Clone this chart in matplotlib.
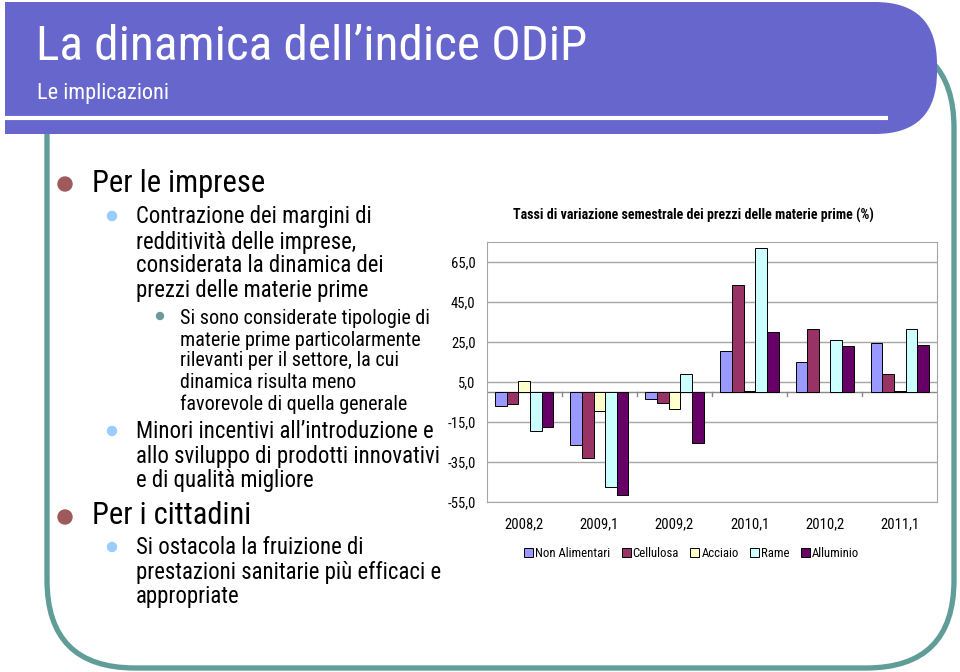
import numpy as np
import matplotlib
matplotlib.use('Agg')
import matplotlib.pyplot as plt
from matplotlib.patches import FancyBboxPatch, Circle
from matplotlib import font_manager

# data
categories = ['2008,2', '2009,1', '2009,2', '2010,1', '2010,2', '2011,1']
series_names = ['Non Alimentari', 'Cellulosa', 'Acciaio', 'Rame', 'Alluminio']
non_alimentari = [-7.0, -26.6, -3.5, 20.6, 14.9, 24.7]
cellulosa = [-6.0, -33.1, -5.5, 53.5, 31.4, 9.0]
acciaio = [5.5, -9.5, -8.4, 0.3, np.nan, 0.3]
rame = [-19.4, -47.8, 9.0, 72.1, 25.9, 31.6]
alluminio = [-17.4, -51.7, -25.4, 29.8, 23.2, 23.4]
yticks = [-55, -35, -15, 5, 25, 45, 65]
colors = ['#9999FF', '#993366', '#FFFFCC', '#CCFFFF', '#660066']

# look for a narrow font, otherwise shrink the regular one
names = set(f.name for f in font_manager.fontManager.ttflist)
narrow = None
for cand in ['Liberation Sans Narrow', 'Roboto Condensed', 'DejaVu Sans Condensed',
             'Open Sans Condensed', 'Noto Sans Condensed']:
    if cand in names:
        narrow = cand
        break
if narrow is None:
    narrow = 'Liberation Sans'
    k = 0.86
else:
    k = 1.0
plt.rcParams['font.family'] = [narrow, 'DejaVu Sans']
if narrow == 'DejaVu Sans Condensed':
    plt.rcParams['font.family'] = ['DejaVu Sans']
    plt.rcParams['font.stretch'] = 'condensed'
    k = 0.92

fig = plt.figure(figsize=(9.6, 6.72), dpi=100)
fig.patch.set_facecolor('white')

# background axes in pixel coords
bg = fig.add_axes([0, 0, 1, 1])
bg.set_xlim(0, 960)
bg.set_ylim(672, 0)
bg.axis('off')

teal = '#609C98'
frame = FancyBboxPatch((47, 40), 907, 628, boxstyle='round,pad=0,rounding_size=88',
                       fill=False, ec=teal, lw=3.8)
bg.add_patch(frame)
header = FancyBboxPatch((5, 2), 932, 132, boxstyle='round,pad=0,rounding_size=62',
                        fc='#6666CC', ec='none')
bg.add_patch(header)
bg.add_patch(plt.Rectangle((5, 2), 100, 132, fc='#6666CC', ec='none'))
bg.plot([5, 888], [118, 118], color='white', lw=3, solid_capstyle='butt')
bg.text(36, 47, 'La dinamica dell\u2019indice ODiP', color='white', fontsize=35.5 * k, va='center', ha='left')
bg.text(37, 93, 'Le implicazioni', color='white', fontsize=16 * k, va='center', ha='left')

# bullets
lines = [
    (0, 183, 'Per le imprese'),
    (1, 217, 'Contrazione dei margini di'),
    (None, 242, 'redditività delle imprese,'),
    (None, 266, 'considerata la dinamica dei'),
    (None, 290, 'prezzi delle materie prime'),
    (2, 318, 'Si sono considerate tipologie di'),
    (None, 340, 'materie prime particolarmente'),
    (None, 361, 'rilevanti per il settore, la cui'),
    (None, 382, 'dinamica risulta meno'),
    (None, 404, 'favorevole di quella generale'),
    (1, 432, 'Minori incentivi all\u2019introduzione e'),
    (None, 457, 'allo sviluppo di prodotti innovativi'),
    (None, 481, 'e di qualità migliore'),
    (0, 516, 'Per i cittadini'),
    (1, 548, 'Si ostacola la fruizione di'),
    (None, 573, 'prestazioni sanitarie più efficaci e'),
    (None, 597, 'appropriate'),
]
level = 0
for lv, y, txt in lines:
    if lv is not None:
        level = lv
    tx = [92, 136, 180][level]
    fs = [22, 16.4, 14.5][level] * k
    if lv == 0:
        bg.add_patch(Circle((65, y + 1), 7, color='#9E5A5A'))
    elif lv == 1:
        bg.add_patch(Circle((112, y - 1), 4.5, color='#99CCFF'))
    elif lv == 2:
        bg.add_patch(Circle((160, y - 2), 3.5, color='#6E9A9A'))
    bg.text(tx, y, txt, fontsize=fs, va='center', ha='left', color='black')

# chart
ax = fig.add_axes([486.7 / 960, (672 - 501.7) / 672, 450.6 / 960, 259.4 / 672])
x = np.arange(len(categories))
w = 0.155
data = [non_alimentari, cellulosa, acciaio, rame, alluminio]
for i, (vals, c, nm) in enumerate(zip(data, colors, series_names)):
    ax.bar(x + (i - 2) * w, vals, w, color=c, edgecolor='black', linewidth=0.7, label=nm, zorder=3)

ax.set_xlim(-0.5, len(categories) - 0.5)
ax.set_ylim(-55, 75)
ax.set_yticks(yticks)
ax.set_yticklabels([f'{v:.1f}'.replace('.', ',') for v in yticks], fontsize=10.5 * k)
ax.yaxis.grid(True, color='#A6A6A6', lw=1, zorder=0)
ax.tick_params(axis='y', length=0, pad=8)
ax.set_xticks([])
for s in ax.spines.values():
    s.set_color('#A6A6A6')
ax.axhline(0, color='#888888', lw=1, zorder=2)
for b in np.arange(0.5, len(categories) - 0.5, 1):
    ax.plot([b, b], [0, -1.8], color='#888888', lw=1, zorder=2)
for xi, c in zip(x, categories):
    ax.text(xi, -0.087, c, transform=ax.get_xaxis_transform(), ha='center', va='center', fontsize=10.5 * k)

fig.text(693 / 960, 1 - 215 / 672, 'Tassi di variazione semestrale dei prezzi delle materie prime (%)',
         ha='center', va='center', fontsize=10 * k, fontweight='bold')
ax.legend(loc='center', bbox_to_anchor=(0.455, -0.2), ncol=5, frameon=False, fontsize=9.2 * k,
          handlelength=0.7, handleheight=0.7, handletextpad=0.15, columnspacing=0.9)

fig.savefig('out.png', dpi=100, facecolor='white')
